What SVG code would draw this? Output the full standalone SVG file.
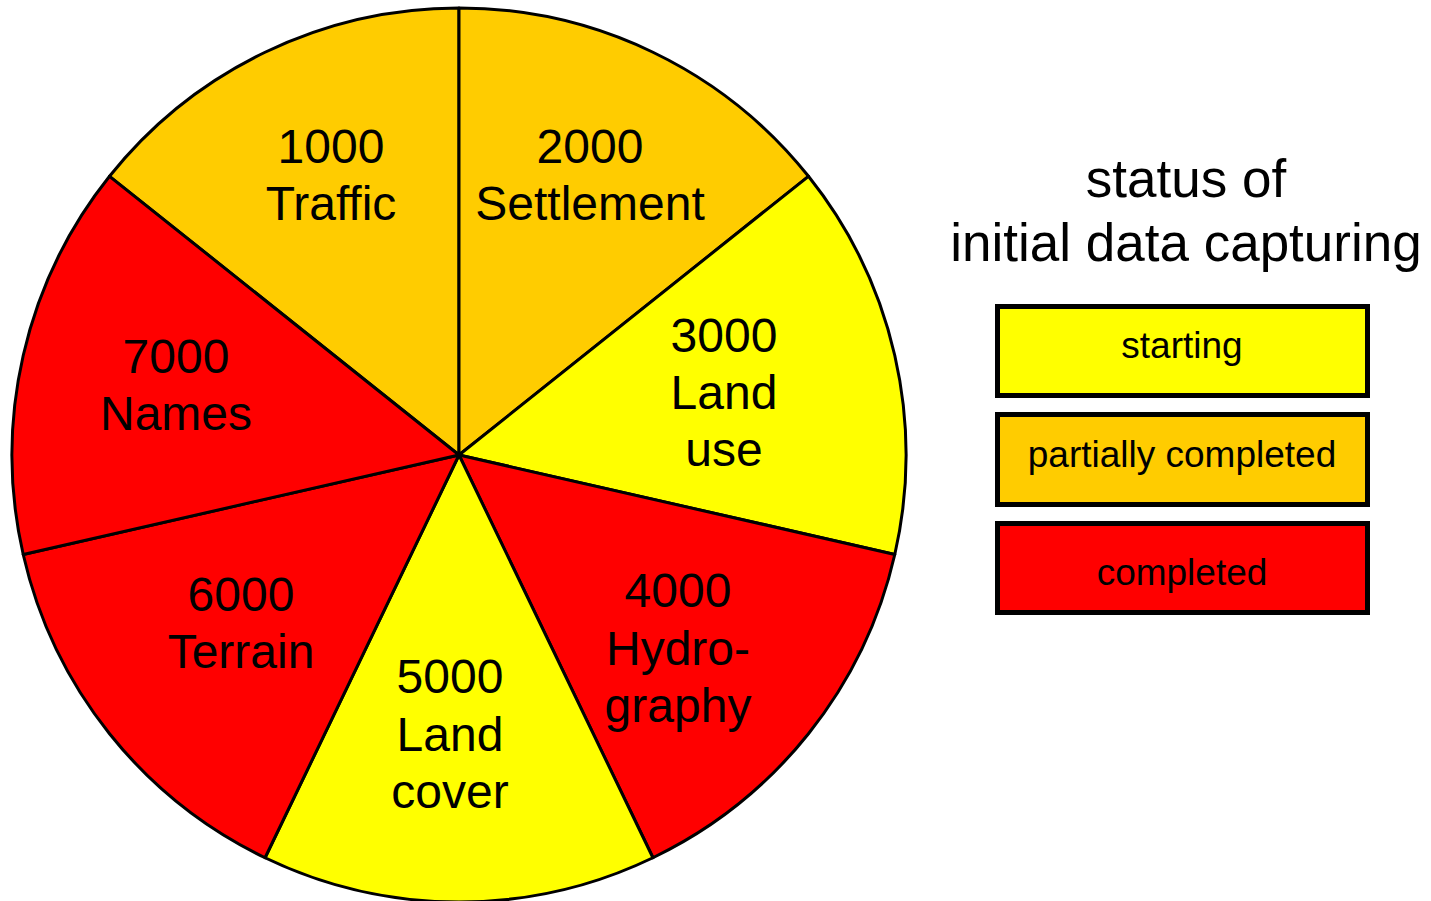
<svg xmlns="http://www.w3.org/2000/svg" width="1431" height="901" viewBox="0 0 1431 901">
<style>
.sl{stroke:#000;stroke-width:3;stroke-linejoin:round}
.or{fill:#FFCC00}.ye{fill:#FFFF00}.rd{fill:#FF0000}
.lb{font-family:"Liberation Sans",Arial,sans-serif;font-size:48px;fill:#000;text-anchor:middle}
.ti{font-family:"Liberation Sans",Arial,sans-serif;font-size:53px;fill:#000;text-anchor:middle}
.lg{stroke:#000;stroke-width:5}
.lt{font-family:"Liberation Sans",Arial,sans-serif;font-size:37px;fill:#000;text-anchor:middle}
</style>
<rect width="1431" height="901" fill="#fff"/>
<g id="slice-traffic">
<path class="sl or" d="M459,455 L109.52,176.3 A447,447 0 0 1 459,8 Z"/>
<text class="lb" x="331" y="163">1000</text>
<text class="lb" x="331" y="220">Traffic</text>
</g>
<g id="slice-settlement">
<path class="sl or" d="M459,455 L459,8 A447,447 0 0 1 808.48,176.3 Z"/>
<text class="lb" x="590" y="163">2000</text>
<text class="lb" x="590" y="220">Settlement</text>
</g>
<g id="slice-landuse">
<path class="sl ye" d="M459,455 L808.48,176.3 A447,447 0 0 1 894.79,554.47 Z"/>
<text class="lb" x="724" y="352">3000</text>
<text class="lb" x="724" y="409">Land</text>
<text class="lb" x="724" y="466">use</text>
</g>
<g id="slice-hydrography">
<path class="sl rd" d="M459,455 L894.79,554.47 A447,447 0 0 1 652.94,857.73 Z"/>
<text class="lb" x="678" y="607">4000</text>
<text class="lb" x="678" y="665">Hydro-</text>
<text class="lb" x="678" y="722">graphy</text>
</g>
<g id="slice-landcover">
<path class="sl ye" d="M459,455 L652.94,857.73 A447,447 0 0 1 265.06,857.73 Z"/>
<text class="lb" x="450" y="693">5000</text>
<text class="lb" x="450" y="751">Land</text>
<text class="lb" x="450" y="808">cover</text>
</g>
<g id="slice-terrain">
<path class="sl rd" d="M459,455 L265.06,857.73 A447,447 0 0 1 23.21,554.47 Z"/>
<text class="lb" x="241" y="611">6000</text>
<text class="lb" x="241" y="668">Terrain</text>
</g>
<g id="slice-names">
<path class="sl rd" d="M459,455 L23.21,554.47 A447,447 0 0 1 109.52,176.3 Z"/>
<text class="lb" x="176" y="373">7000</text>
<text class="lb" x="176" y="430">Names</text>
</g>
<g id="title">
<text class="ti" x="1186" y="197">status of</text>
<text class="ti" x="1186" y="261">initial data capturing</text>
</g>
<g id="legend-starting">
<rect class="lg ye" x="997.5" y="306.5" width="370" height="89"/>
<text class="lt" x="1182" y="358">starting</text>
</g>
<g id="legend-partial">
<rect class="lg or" x="997.5" y="414.5" width="370" height="90"/>
<text class="lt" x="1182" y="467">partially completed</text>
</g>
<g id="legend-completed">
<rect class="lg rd" x="997.5" y="523.5" width="370" height="89"/>
<text class="lt" x="1182" y="585">completed</text>
</g>
</svg>
